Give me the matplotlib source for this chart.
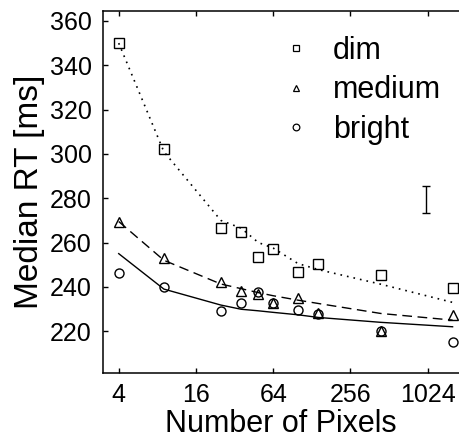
import matplotlib
matplotlib.use('Agg')
import matplotlib.pyplot as plt
from matplotlib.lines import Line2D

plt.rcParams['font.family'] = ['Liberation Sans', 'DejaVu Sans']

# number of pixels (x) for each stimulus size
pixels = [4, 9, 25, 36, 49, 64, 100, 144, 441, 1600]

# median RT, measured points
dim_rt = [350, 302, 266.5, 264.7, 253.4, 257.3, 246.6, 250.4, 245.3, 239.5]
medium_rt = [269.5, 253, 242, 238, 236.8, 232.6, 235.2, 228, 220.3, 227.3]
bright_rt = [246.3, 240.1, 229.2, 232.6, 237.5, 232.7, 229.4, 227.7, 220.2, 214.9]

# fitted curves evaluated at the same sizes
dim_fit = [350, 301, 270, 266.5, 260, 257.5, 250.5, 247.8, 241.2, 233]
medium_fit = [269.5, 252, 241.3, 239.2, 237.4, 236, 234, 232.5, 228, 225]
bright_fit = [255, 239, 231.8, 229.9, 229.2, 228.5, 227.4, 226.2, 224, 222]

# typical error bar
err_x = [1000]
err_y = [279.5]
err_half = [6]

fig = plt.figure(figsize=(4.59, 4.40), dpi=100)
ax = fig.add_axes([0.2237, 0.1516, 0.7763, 0.8234])

ax.plot(pixels, dim_fit, color='black', linestyle=(0, (1, 3)), linewidth=1.2)
ax.plot(pixels, medium_fit, color='black', linestyle=(0, (7, 4)), linewidth=1.0)
ax.plot(pixels, bright_fit, color='black', linestyle='-', linewidth=1.0)

ax.plot(pixels, dim_rt, linestyle='none', marker='s', markersize=7,
        markerfacecolor='none', markeredgecolor='black', markeredgewidth=1.0)
ax.plot(pixels, medium_rt, linestyle='none', marker='^', markersize=6.5,
        markerfacecolor='none', markeredgecolor='black', markeredgewidth=1.0)
ax.plot(pixels, bright_rt, linestyle='none', marker='o', markersize=6.5,
        markerfacecolor='none', markeredgecolor='black', markeredgewidth=1.0)

ax.errorbar(err_x, err_y, yerr=err_half, fmt='none', ecolor='black',
            elinewidth=1.0, capsize=2.8, capthick=1.0)

ax.set_xscale('log', base=2)
ax.set_xlim(3, 1795)
ax.set_ylim(201, 364.5)
ax.set_xticks([4, 16, 64, 256, 1024])
ax.set_xticklabels(['4', '16', '64', '256', '1024'])
ax.minorticks_off()
ax.set_yticks(range(220, 361, 20))

ax.tick_params(direction='in', length=3.5, width=1, labelsize=18,
               top=True, right=False)
ax.tick_params(axis='x', pad=7)
ax.tick_params(axis='y', pad=8)
for s in ['left', 'bottom', 'top']:
    ax.spines[s].set_linewidth(1.1)
ax.spines['right'].set_visible(False)

ax.set_xlabel('Number of Pixels', fontsize=22, labelpad=1.5)
ax.set_ylabel('Median RT [ms]', fontsize=24, labelpad=3)

handles = [
    Line2D([], [], linestyle='none', marker='s', markersize=4.8,
           markerfacecolor='none', markeredgecolor='black', markeredgewidth=0.9),
    Line2D([], [], linestyle='none', marker='^', markersize=4.8,
           markerfacecolor='none', markeredgecolor='black', markeredgewidth=0.9),
    Line2D([], [], linestyle='none', marker='o', markersize=4.8,
           markerfacecolor='none', markeredgecolor='black', markeredgewidth=0.9),
]
ax.legend(handles, ['dim', 'medium', 'bright'], frameon=False, fontsize=22,
          loc='upper left', bbox_to_anchor=(0.517, 0.931),
          handlelength=0.6, handletextpad=0.9, labelspacing=0.31,
          borderaxespad=0, borderpad=0)

fig.savefig('out.png', dpi=100)
